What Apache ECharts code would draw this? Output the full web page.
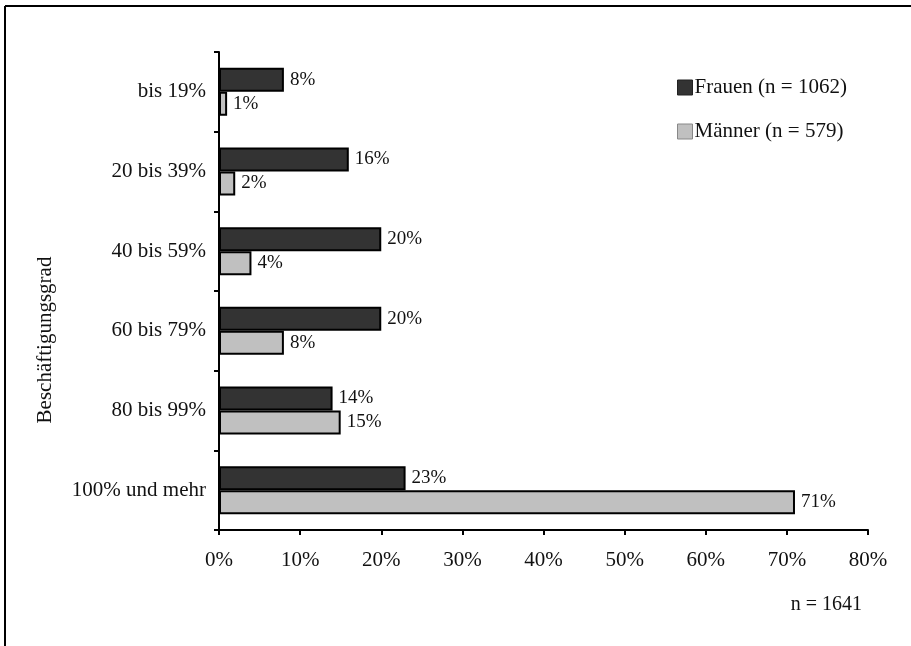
<!DOCTYPE html>
<html>
<head>
<meta charset="utf-8">
<script src="https://cdn.jsdelivr.net/npm/echarts@6/dist/echarts.min.js"></script>
<style>
  html, body { margin: 0; padding: 0; background: #fff; }
  #chart { width: 911px; height: 646px; }
</style>
</head>
<body>
<div id="chart"></div>
<script>
// Beschäftigungsgrad nach Geschlecht (Anteile in %)
const categories = ['bis 19%', '20 bis 39%', '40 bis 59%', '60 bis 79%', '80 bis 99%', '100% und mehr'];
const frauen = [8, 16, 20, 20, 14, 23];
const maenner = [1, 2, 4, 8, 15, 71];
const xTicks = [0, 10, 20, 30, 40, 50, 60, 70, 80];
const seriesNames = ['Frauen (n = 1062)', 'Männer (n = 579)'];
const totalNote = 'n = 1641';
const axisTitle = 'Beschäftigungsgrad';

const font = '"Liberation Serif", "DejaVu Serif", serif';
const chart = echarts.init(document.getElementById('chart'));

const labelStyle = {
  show: true,
  position: 'right',
  distance: 6,
  formatter: p => p.value + '%',
  fontFamily: font,
  fontSize: 19,
  color: '#111'
};

chart.setOption({
  animation: false,
  backgroundColor: '#fff',
  grid: { left: 219, right: 43, top: 52, bottom: 116, containLabel: false },
  legend: {
    orient: 'vertical',
    left: 677,
    top: 77,
    padding: 0,
    itemGap: 23,
    itemWidth: 15,
    itemHeight: 15,
    icon: 'rect',
    textStyle: { fontFamily: font, fontSize: 21, color: '#111', padding: [0, 0, 0, -3] },
    data: seriesNames.map((n, i) => ({
      name: n,
      itemStyle: { color: i === 0 ? '#333333' : '#c0c0c0', borderColor: i === 0 ? '#222' : '#888', borderWidth: 1 }
    }))
  },
  xAxis: {
    type: 'value',
    min: xTicks[0],
    max: xTicks[xTicks.length - 1],
    interval: 10,
    splitLine: { show: false },
    axisLine: { show: true, lineStyle: { color: '#000', width: 2 } },
    axisTick: { show: true, length: 5, lineStyle: { color: '#000', width: 2 } },
    axisLabel: { formatter: '{value}%', fontFamily: font, fontSize: 21, color: '#111', margin: 20 }
  },
  yAxis: {
    type: 'category',
    inverse: true,
    data: categories,
    axisLine: { show: true, lineStyle: { color: '#000', width: 2 } },
    axisTick: { show: true, length: 5, lineStyle: { color: '#000', width: 2 } },
    axisLabel: { fontFamily: font, fontSize: 21, color: '#111', margin: 13 }
  },
  series: [
    {
      name: seriesNames[0],
      type: 'bar',
      data: frauen,
      barWidth: 24,
      barGap: '0%',
      itemStyle: { color: '#333333', borderColor: '#000', borderWidth: 2 },
      label: labelStyle
    },
    {
      name: seriesNames[1],
      type: 'bar',
      data: maenner,
      barWidth: 24,
      barGap: '0%',
      itemStyle: { color: '#c0c0c0', borderColor: '#000', borderWidth: 2 },
      label: labelStyle
    }
  ],
  graphic: [
    // Rahmen oben und links
    { type: 'line', shape: { x1: 5, y1: 6, x2: 911, y2: 6 }, style: { stroke: '#000', lineWidth: 2 } },
    { type: 'line', shape: { x1: 5, y1: 6, x2: 5, y2: 646 }, style: { stroke: '#000', lineWidth: 2 } },
    {
      type: 'text',
      x: 45, y: 340,
      rotation: Math.PI / 2,
      style: { text: axisTitle, fontFamily: font, fontSize: 21, fill: '#111', align: 'center', verticalAlign: 'middle' }
    },
    {
      type: 'text',
      x: 862, y: 605,
      style: { text: totalNote, fontFamily: font, fontSize: 20, fill: '#111', align: 'right', verticalAlign: 'middle' }
    }
  ]
});
</script>
</body>
</html>
